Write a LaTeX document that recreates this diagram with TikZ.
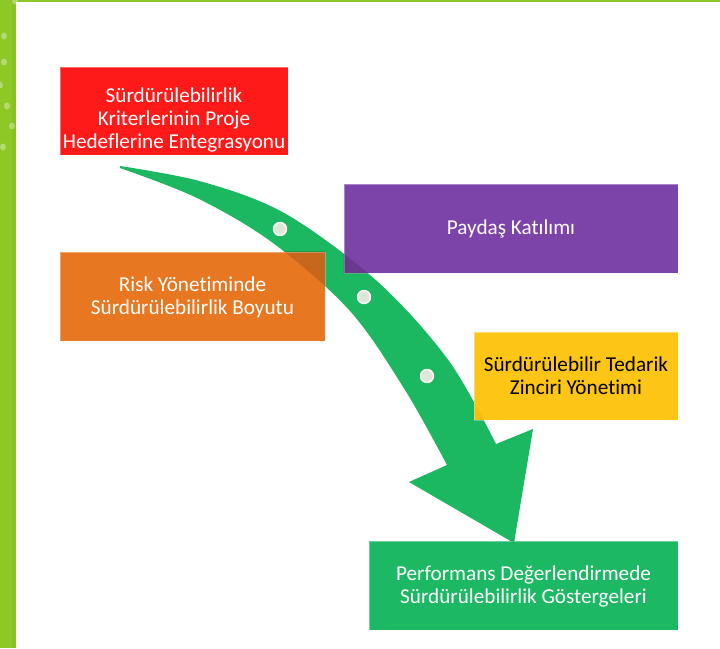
\documentclass[tikz,border=0pt]{standalone}
\usepackage{fontspec}
\setmainfont{Carlito}[Ligatures={NoCommon}]
\begin{document}
\begin{tikzpicture}[x=1pt,y=-1pt,
  every node/.style={font=\fontsize{21.2}{23}\selectfont, align=center, inner sep=0pt},
  card/.style={draw=white, draw opacity=0.35, line width=0.8pt},
  waydot/.style={circle, fill=dotfill, draw=white, line width=1.4pt, minimum size=13pt}]
\definecolor{barlime}{RGB}{141,200,38}
\definecolor{arrowgreen}{RGB}{27,183,97}
\definecolor{cardred}{RGB}{255,26,26}
\definecolor{cardorange}{RGB}{232,119,34}
\definecolor{cardpurple}{RGB}{124,68,168}
\definecolor{cardyellow}{RGB}{253,197,22}
\definecolor{cardgreen}{RGB}{29,184,99}
\definecolor{dotfill}{RGB}{221,232,214}

% outline of the curved arrow
\def\arrowoutline{
  plot[smooth, tension=0.55] coordinates {(120,166) (203,182) (286,214) (378,282) (449,361) (496,444)}
  -- (533,429) -- (514,543) -- (409,482) -- (447,465)
  -- plot[smooth, tension=0.55] coordinates {(447,465) (405,390) (350,311) (273,243) (197,198) (120,168)}
  -- cycle}

\useasboundingbox (0,0) rectangle (720,648);
\fill[white] (0,0) rectangle (720,648);

% frame: lime bar on the left and thin line along the top
\fill[barlime] (0,0) rectangle (16,648);
\fill[barlime!90!black, opacity=0.35] (12,0) rectangle (16,648);
\fill[barlime] (16,0) rectangle (720,2.2);
\foreach \px/\py in {4/36, 4/62, 0/85, 7/106, 12/126, 3/147, 15/1}
  \fill[white, opacity=0.35] (\px,\py) ellipse (3 and 3.6);

% curved arrow
\fill[arrowgreen] \arrowoutline;

\node[waydot] (d1) at (280,229) {};
\node[waydot] (d2) at (364,297) {};
\node[waydot] (d3) at (427,376) {};

% cards
\node[card, fill=cardred, minimum width=228pt, minimum height=88pt] (c1) at (174,111) {};
\node[card, fill=cardorange, minimum width=265pt, minimum height=89pt] (c2) at (192.5,296.5) {};
\node[card, fill=cardpurple, minimum width=334pt, minimum height=89pt] (c3) at (511,228.5) {};
\node[card, fill=cardyellow, minimum width=204pt, minimum height=88pt] (c4) at (576,376) {};
\node[card, fill=cardgreen, minimum width=309pt, minimum height=89pt] (c5) at (523.5,585.5) {};

% the arrow showing faintly through the cards it passes under
\foreach \c/\op in {c2/0.14, c3/0.16, c4/0.04, c5/0.14} {
  \begin{scope}
    \clip (\c.north west) rectangle (\c.south east);
    \fill[black, opacity=\op] \arrowoutline;
  \end{scope}
}

% card texts
\node[text=white] at ([yshift=-9pt]c1.center) {Sürdürülebilirlik\\Kriterlerinin Proje\\Hedeflerine Entegrasyonu};
\node[text=white] at ([yshift=-1pt]c2.center) {Risk Yönetiminde\\Sürdürülebilirlik Boyutu};
\node[text=white] at (c3) {Paydaş Katılımı};
\node[text=black] at (c4) {Sürdürülebilir Tedarik\\Zinciri Yönetimi};
\node[text=white] at ([yshift=-1pt]c5.center) {Performans Değerlendirmede\\Sürdürülebilirlik Göstergeleri};
\end{tikzpicture}
\end{document}
